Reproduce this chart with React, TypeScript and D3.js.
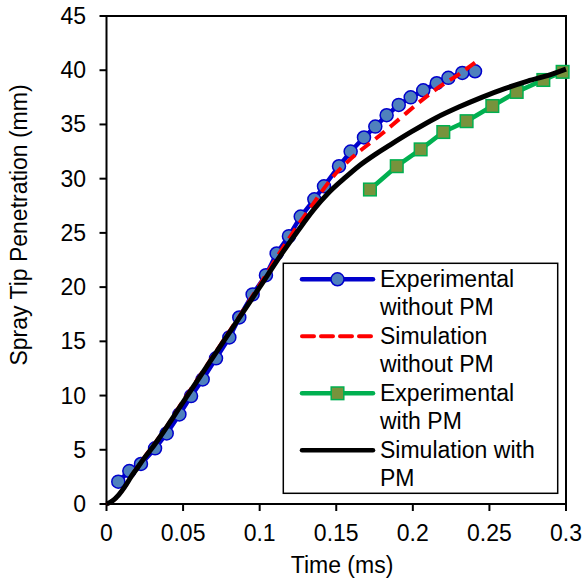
import React from "react";
import * as d3 from "d3";

// Experimental without PM (time ms, penetration mm)
const expNoPmT = [0.0077,0.0149,0.0225,0.0317,0.0393,0.0476,0.0552,0.0628,0.0715,0.0802,0.0867,0.0954,0.1041,0.1111,0.1191,0.1268,0.1357,0.142,0.1518,0.1594,0.1681,0.1755,0.1829,0.1908,0.1986,0.2068,0.2156,0.2232,0.2323,0.2406];
const expNoPmV = [2.06,3.04,3.69,5.13,6.51,8.26,9.95,11.49,13.43,15.36,17.2,19.33,21.1,23.1,24.7,26.5,28.1,29.3,31.15,32.5,33.8,34.8,35.85,36.8,37.5,38.15,38.8,39.3,39.75,39.9];

// Simulation without PM
const simNoPmT = [0,0.004,0.008,0.012,0.016,0.02,0.025,0.03,0.035,0.05,0.075,0.1,0.115,0.125,0.135,0.148,0.16,0.1786,0.1916,0.2047,0.2177,0.2308,0.2406];
const simNoPmV = [0,0.3,0.85,1.6,2.5,3.35,4.35,5.3,6.25,9.5,14.8,20.2,23.6,25.7,27.7,30.2,31.9,34.0,35.55,37.1,38.5,39.7,40.7];

// Experimental with PM
const expPmT = [0.172,0.1895,0.2051,0.2199,0.2351,0.2519,0.2678,0.2852,0.2978];
const expPmV = [29.0,31.15,32.7,34.3,35.3,36.7,38.0,39.1,39.85];

// Simulation with PM
const simPmT = [0,0.004,0.008,0.012,0.016,0.02,0.025,0.03,0.035,0.05,0.075,0.1,0.115,0.125,0.135,0.145,0.155,0.165,0.175,0.185,0.2,0.215,0.23,0.245,0.26,0.275,0.29,0.3];
const simPmV = [0,0.3,0.85,1.6,2.5,3.3,4.3,5.2,6.2,9.4,14.7,20.0,23.2,25.2,27.1,28.7,30.0,31.2,32.2,33.1,34.4,35.6,36.6,37.5,38.3,39.0,39.6,40.1];

const xTicks = [0, 0.05, 0.1, 0.15, 0.2, 0.25, 0.3];
const xTickLabels = ["0", "0.05", "0.1", "0.15", "0.2", "0.25", "0.3"];
const yTicks = [0, 5, 10, 15, 20, 25, 30, 35, 40, 45];

const legendLabels = [
  ["Experimental", "without PM"],
  ["Simulation", "without PM"],
  ["Experimental", "with PM"],
  ["Simulation with", "PM"],
];

const FONT = "Arial, 'Liberation Sans', sans-serif";

export default function App() {
  const W = 585, H = 580;
  const left = 106.5, right = 566, top = 16, bottom = 504;
  const x = d3.scaleLinear().domain([0, 0.3]).range([left, right]);
  const y = d3.scaleLinear().domain([0, 45]).range([bottom, top]);

  const zip = (t: number[], v: number[]) => t.map((tt, i) => [tt, v[i]] as [number, number]);
  const expNoPm = zip(expNoPmT, expNoPmV);
  const simNoPm = zip(simNoPmT, simNoPmV);
  const expPm = zip(expPmT, expPmV);
  const simPm = zip(simPmT, simPmV);

  const lin = d3.line<[number, number]>().x(d => x(d[0])).y(d => y(d[1]));
  const smooth = d3.line<[number, number]>().x(d => x(d[0])).y(d => y(d[1])).curve(d3.curveMonotoneX);

  const blueLine = "#0000CC", blueFill = "#4F81BD";
  const greenLine = "#00B050", greenFill = "#77933C";
  const fs = 23;

  // legend layout
  const lgX = 283.3, lgY = 263.3, lgW = 274.4, lgH = 230;
  const sampleX1 = 302, sampleX2 = 373, textX = 380;
  const rowBase = 287.3, rowStep = 57, lineStep = 27.7;

  return (
    <svg width={W} height={H} style={{ position: "absolute", left: 0, top: 0, background: "#fff" }} fontFamily={FONT}>
      <rect x={0} y={0} width={W} height={H} fill="#fff" />
      {/* frame */}
      <rect x={left} y={top} width={right - left} height={bottom - top} fill="none" stroke="#000" strokeWidth={2} />
      {/* x ticks */}
      {xTicks.map((t, i) => (
        <g key={"xt" + i}>
          <line x1={x(t)} x2={x(t)} y1={bottom} y2={bottom + 7} stroke="#000" strokeWidth={2} />
          <text x={x(t)} y={541} fontSize={fs} textAnchor="middle">{xTickLabels[i]}</text>
        </g>
      ))}
      {/* y ticks */}
      {yTicks.map((v, i) => (
        <g key={"yt" + i}>
          <line x1={left - 7} x2={left} y1={y(v)} y2={y(v)} stroke="#000" strokeWidth={2} />
          <text x={86} y={y(v) + 8} fontSize={fs} textAnchor="end">{v}</text>
        </g>
      ))}
      <text x={342} y={573} fontSize={fs} textAnchor="middle">Time (ms)</text>
      <text transform={`translate(26.5,225) rotate(-90)`} fontSize={fs} textAnchor="middle">Spray Tip Penetration (mm)</text>

      {/* series 1: experimental without PM */}
      <path d={lin(expNoPm) || ""} fill="none" stroke={blueLine} strokeWidth={4.5} strokeLinejoin="round" />
      {expNoPm.map((d, i) => (
        <circle key={"c" + i} cx={x(d[0])} cy={y(d[1])} r={6.5} fill={blueFill} stroke={blueLine} strokeWidth={1.5} />
      ))}
      {/* series 2: simulation without PM */}
      <path d={smooth(simNoPm) || ""} fill="none" stroke="#FF0000" strokeWidth={4} strokeDasharray="12,7" />
      {/* series 3: experimental with PM */}
      <path d={lin(expPm) || ""} fill="none" stroke={greenLine} strokeWidth={4.5} strokeLinejoin="round" />
      {expPm.map((d, i) => (
        <rect key={"s" + i} x={x(d[0]) - 6.3} y={y(d[1]) - 6.3} width={12.6} height={12.6} fill={greenFill} stroke={greenLine} strokeWidth={1.5} />
      ))}
      {/* series 4: simulation with PM */}
      <path d={smooth(simPm) || ""} fill="none" stroke="#000" strokeWidth={5} />

      {/* legend */}
      <rect x={lgX} y={lgY} width={lgW} height={lgH} fill="#fff" stroke="#000" strokeWidth={1.5} />
      {legendLabels.map((lab, i) => {
        const base = rowBase + i * rowStep;
        const sy = base - 8;
        const mx = (sampleX1 + sampleX2) / 2;
        return (
          <g key={"lg" + i}>
            {i === 0 && (
              <>
                <line x1={sampleX1} x2={sampleX2} y1={sy} y2={sy} stroke={blueLine} strokeWidth={4.5} strokeLinecap="round" />
                <circle cx={mx} cy={sy} r={6.5} fill={blueFill} stroke={blueLine} strokeWidth={1.5} />
              </>
            )}
            {i === 1 && (
              <line x1={sampleX1} x2={sampleX2} y1={sy} y2={sy} stroke="#FF0000" strokeWidth={4} strokeDasharray="12,7" strokeLinecap="round" />
            )}
            {i === 2 && (
              <>
                <line x1={sampleX1} x2={sampleX2} y1={sy} y2={sy} stroke={greenLine} strokeWidth={4.5} strokeLinecap="round" />
                <rect x={mx - 6.3} y={sy - 6.3} width={12.6} height={12.6} fill={greenFill} stroke={greenLine} strokeWidth={1.5} />
              </>
            )}
            {i === 3 && (
              <line x1={sampleX1} x2={sampleX2} y1={sy} y2={sy} stroke="#000" strokeWidth={4.5} strokeLinecap="round" />
            )}
            <text x={textX} y={base} fontSize={fs}>{lab[0]}</text>
            <text x={textX} y={base + lineStep} fontSize={fs}>{lab[1]}</text>
          </g>
        );
      })}
    </svg>
  );
}
